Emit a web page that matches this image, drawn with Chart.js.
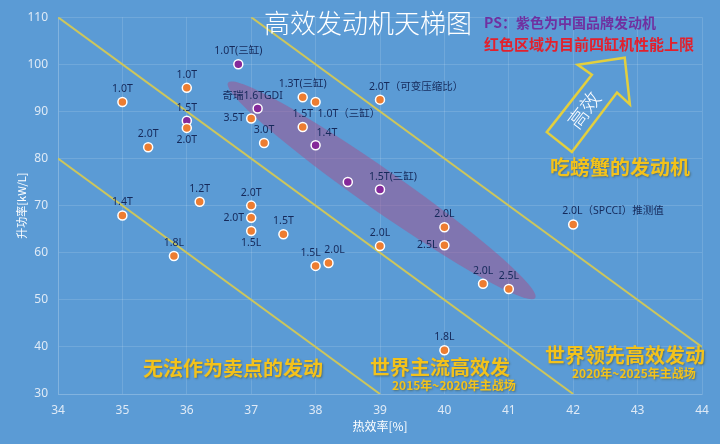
<!DOCTYPE html>
<html lang="zh-CN">
<head>
  <meta charset="UTF-8">
  <title>高效发动机天梯图</title>
  <script src="https://cdn.jsdelivr.net/npm/chart.js"></script>
  <style>
    html, body { margin: 0; padding: 0; background: #5b9bd5; }
    #wrap { width: 720px; height: 444px; }
  </style>
</head>
<body>
  <div id="wrap"><canvas id="grafico" width="720" height="444"></canvas></div>

  <script>
    // dados
    const nomes = ['1.0T(三缸)', '1.0T', '1.0T', '1.5T', '2.0T', '2.0T', '奇瑞1.6TGDI', '3.5T', '3.0T',
      '1.3T(三缸)', '1.0T（三缸）', '1.5T', '1.4T', '', '2.0T（可变压缩比）', '1.5T(三缸)', '2.0L', '2.5L',
      '2.0L', '2.0L', '2.5L', '2.0L（SPCCI）推测值', '1.8L', '1.4T', '1.2T', '1.8L', '2.0T', '2.0T',
      '1.5L', '1.5T', '1.5L', '2.0L'];
    const eficiencia = [36.8, 35.0, 36.0, 36.0, 36.0, 35.4, 37.1, 37.0, 37.2,
      37.8, 38.0, 37.8, 38.0, 38.5, 39.0, 39.0, 40.0, 40.0,
      39.0, 40.6, 41.0, 42.0, 40.0, 35.0, 36.2, 35.8, 37.0, 37.0,
      37.0, 37.5, 38.0, 38.2];
    const potencia = [100, 92, 95, 88, 86.5, 82.4, 90.6, 88.5, 83.3,
      93, 92, 86.7, 82.8, 75, 92.5, 73.4, 65.4, 61.6,
      61.4, 53.4, 52.3, 66, 39.3, 67.9, 70.8, 59.3, 70, 67.4,
      64.6, 63.9, 57.2, 57.8];
    const marcaChinesa = [1, 0, 0, 1, 0, 0, 1, 0, 0,
      0, 0, 0, 1, 1, 0, 1, 0, 0,
      0, 0, 0, 0, 0, 0, 0, 0, 0, 0,
      0, 0, 0, 0];
    // onde fica o rótulo de cada ponto
    const posRotulo = ['t', 't', 't', 't', 'b', 't', 'tL', 'l', 't',
      't', 'br', 't', 'tr', '', 'ts', 'ts', 't', 'l',
      't', 't', 't', 'ts', 't', 't', 't', 't', 't', 'l',
      'b', 't', 'tL', 'tR'];

    // linhas amarelas (pares de x / y)
    const linhasX = [[34, 42], [34, 39], [37, 44]];
    const linhasY = [[110, 30], [80, 30], [110, 40]];

    // faixa roxa (extremos em unidades do gráfico)
    const faixaX = [36.64, 41.41];
    const faixaY = [96.1, 50.4];

    // seta "高效" em unidades do gráfico
    const setaX = [41.59, 41.98, 42.68, 42.88, 42.80, 42.07, 42.29];
    const setaY = [85.6, 81.4, 94.0, 91.5, 101.4, 99.9, 97.8];

    const ticksX = [34, 35, 36, 37, 38, 39, 40, 41, 42, 43, 44];
    const ticksY = [30, 40, 50, 60, 70, 80, 90, 100, 110];

    const CJK = "'Noto Sans CJK SC', 'Noto Sans', sans-serif";
    const AMARELO = '#f3c21b';

    const pontos = eficiencia.map((x, i) => ({ x: x, y: potencia[i] }));

    const linhas = linhasX.map((xs, i) => ({
      type: 'scatter',
      data: xs.map((x, j) => ({ x: x, y: linhasY[i][j] })),
      showLine: true,
      borderColor: '#cdc65c',
      borderWidth: 2,
      pointRadius: 0,
      pointHoverRadius: 0
    }));

    // Plugin: faixa roxa por baixo dos pontos
    const faixaPlugin = {
      id: 'faixa',
      beforeDatasetsDraw(chart) {
        const { ctx, scales: { x, y } } = chart;
        const x1 = x.getPixelForValue(faixaX[0]), y1 = y.getPixelForValue(faixaY[0]);
        const x2 = x.getPixelForValue(faixaX[1]), y2 = y.getPixelForValue(faixaY[1]);
        const cx = (x1 + x2) / 2, cy = (y1 + y2) / 2;
        const meio = Math.hypot(x2 - x1, y2 - y1) / 2;
        const ang = Math.atan2(y2 - y1, x2 - x1);
        ctx.save();
        ctx.fillStyle = 'rgba(165, 80, 140, 0.5)';
        ctx.beginPath();
        ctx.ellipse(cx, cy, meio, 20, ang, 0, Math.PI * 2);
        ctx.fill();
        ctx.restore();
      }
    };

    // Plugin: rótulos, textos e seta
    const textosPlugin = {
      id: 'textos',
      afterDatasetsDraw(chart) {
        const { ctx, scales: { x, y } } = chart;
        const meta = chart.getDatasetMeta(0);

        ctx.save();
        ctx.font = "10.5px 'Noto Sans', 'Noto Sans CJK SC', sans-serif";
        ctx.fillStyle = '#15295a';
        ctx.textBaseline = 'middle';
        meta.data.forEach((p, i) => {
          const txt = nomes[i];
          if (!txt) return;
          let dx = 0, dy = -13, al = 'center';
          switch (posRotulo[i]) {
            case 'b': dy = 12; break;
            case 'l': dx = -7; dy = 0; al = 'right'; break;
            case 'br': dx = 2; dy = 12; al = 'left'; break;
            case 'tr': dx = 1; dy = -12; al = 'left'; break;
            case 'ts': dx = -11; dy = -13; al = 'left'; break;
            case 'tL': dx = -5; break;
            case 'tR': dx = 6; break;
          }
          ctx.textAlign = al;
          ctx.fillText(txt, p.x + dx, p.y + dy);
        });
        ctx.restore();

        // seta
        ctx.save();
        ctx.strokeStyle = '#e3cf3e';
        ctx.lineWidth = 2.5;
        ctx.lineJoin = 'miter';
        ctx.beginPath();
        setaX.forEach((v, i) => {
          const px = x.getPixelForValue(v), py = y.getPixelForValue(setaY[i]);
          if (i === 0) ctx.moveTo(px, py); else ctx.lineTo(px, py);
        });
        ctx.closePath();
        ctx.stroke();
        ctx.translate(584, 110);
        ctx.rotate(-53 * Math.PI / 180);
        ctx.font = '300 20px ' + CJK;
        ctx.fillStyle = '#ffffff';
        ctx.textAlign = 'center';
        ctx.textBaseline = 'middle';
        ctx.fillText('高效', 0, 0);
        ctx.restore();

        // títulos e avisos
        ctx.save();
        ctx.textBaseline = 'middle';
        ctx.textAlign = 'left';
        ctx.font = '300 26px ' + CJK;
        ctx.fillStyle = '#ffffff';
        ctx.fillText('高效发动机天梯图', 264, 23);

        ctx.font = 'bold 14px ' + CJK;
        ctx.fillStyle = '#7030a0';
        ctx.fillText('PS：紫色为中国品牌发动机', 484, 23);
        ctx.font = 'bold 15px ' + CJK;
        ctx.fillStyle = '#e3202c';
        ctx.fillText('红色区域为目前四缸机性能上限', 484, 44);

        ctx.shadowColor = 'rgba(60, 60, 20, 0.45)';
        ctx.shadowBlur = 2;
        ctx.shadowOffsetX = 1;
        ctx.shadowOffsetY = 1;
        ctx.fillStyle = AMARELO;
        ctx.font = 'bold 20px ' + CJK;
        ctx.fillText('吃螃蟹的发动机', 550, 167);
        ctx.fillText('无法作为卖点的发动', 143, 368);
        ctx.fillText('世界主流高效发', 370, 367);
        ctx.fillText('世界领先高效发动', 545, 355);
        ctx.font = 'bold 12px ' + CJK;
        ctx.fillText('2015年~2020年主战场', 392, 385);
        ctx.fillText('2020年~2025年主战场', 572, 373);
        ctx.restore();
      }
    };

    const grade = { color: 'rgba(255,255,255,0.13)', drawTicks: false };
    const corTick = '#dfeaf6';

    new Chart(document.getElementById('grafico'), {
      type: 'scatter',
      data: {
        datasets: [
          {
            label: '发动机',
            data: pontos,
            pointRadius: 4.5,
            pointHoverRadius: 4.5,
            pointBorderWidth: 1.5,
            pointBorderColor: '#ffffff',
            pointBackgroundColor: marcaChinesa.map(c => c ? '#85299a' : '#ed7d31')
          },
          ...linhas
        ]
      },
      options: {
        responsive: false,
        animation: false,
        layout: { padding: { top: 14, right: 18, left: 0, bottom: 0 } },
        plugins: {
          legend: { display: false },
          tooltip: { enabled: false }
        },
        scales: {
          x: {
            type: 'linear',
            min: 34, max: 44,
            afterBuildTicks: s => { s.ticks = ticksX.map(v => ({ value: v })); },
            afterFit: s => { s.height = 50; },
            grid: grade,
            border: { color: 'rgba(255,255,255,0.13)' },
            ticks: { color: corTick, padding: 9, font: { size: 12, family: "'Noto Sans', sans-serif" } },
            title: { display: true, text: '热效率[%]', color: '#ffffff', padding: { bottom: 10 }, font: { size: 12, family: CJK } }
          },
          y: {
            type: 'linear',
            min: 30, max: 110,
            afterBuildTicks: s => { s.ticks = ticksY.map(v => ({ value: v })); },
            afterFit: s => { s.width = 58; },
            grid: grade,
            border: { color: 'rgba(255,255,255,0.13)' },
            ticks: { color: corTick, padding: 10, font: { size: 12, family: "'Noto Sans', sans-serif" } },
            title: { display: true, text: '升功率[kW/L]', color: '#ffffff', padding: { top: 15 }, font: { size: 11, family: CJK } }
          }
        }
      },
      plugins: [faixaPlugin, textosPlugin]
    });
  </script>
</body>
</html>
